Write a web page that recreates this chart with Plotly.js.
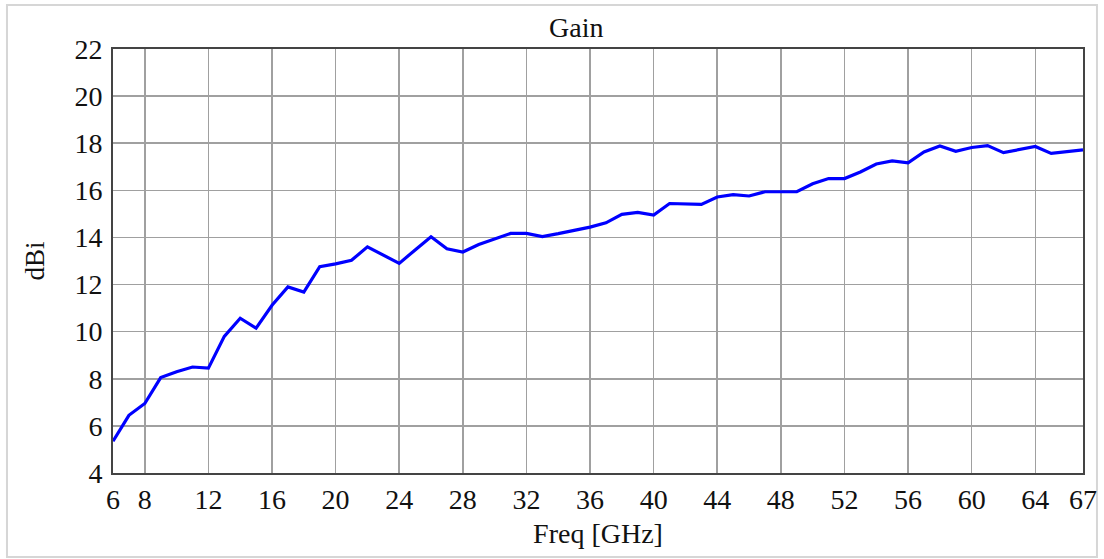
<!DOCTYPE html>
<html>
<head>
<meta charset="utf-8">
<script src="https://cdn.plot.ly/plotly-3.0.1.min.js"></script>
<style>
html, body { margin: 0; padding: 0; background: #fff; }
#chart { width: 1104px; height: 559px; }
#chart text { font-family: 'Liberation Serif', 'Times New Roman', serif !important; }
</style>
</head>
<body>
<div id="chart"></div>
<script>
const freqGHz = [6,7,8,9,10,11,12,13,14,15,16,17,18,19,20,21,22,23,24,25,26,27,28,29,30,31,32,33,34,35,36,37,38,39,40,41,42,43,44,45,46,47,48,49,50,51,52,53,54,55,56,57,58,59,60,61,62,63,64,65,66,67];
const gainDBi = [5.35,6.45,6.95,8.05,8.3,8.5,8.45,9.8,10.57,10.15,11.12,11.9,11.68,12.76,12.88,13.03,13.6,13.25,12.9,13.47,14.03,13.52,13.38,13.7,13.92,14.17,14.17,14.04,14.16,14.3,14.44,14.62,14.98,15.06,14.95,15.44,15.41,15.4,15.72,15.82,15.76,15.94,15.94,15.94,16.28,16.5,16.5,16.78,17.12,17.25,17.17,17.63,17.88,17.66,17.82,17.9,17.6,17.73,17.86,17.57,17.63,17.72];
const xTickVals = [6,8,12,16,20,24,28,32,36,40,44,48,52,56,60,64,67];
const yTickVals = [4,6,8,10,12,14,16,18,20,22];

const FAM = 'Liberation Serif';

const trace = {
  x: freqGHz,
  y: gainDBi,
  type: 'scatter',
  mode: 'lines',
  line: { color: '#0000ff', width: 3.2 },
  hoverinfo: 'x+y'
};

const layout = {
  width: 1104,
  height: 559,
  margin: { l: 113, r: 21, t: 49, b: 86 },
  paper_bgcolor: '#ffffff',
  plot_bgcolor: '#ffffff',
  showlegend: false,
  font: { family: FAM, color: '#111111', size: 28 },
  title: {
    text: 'Gain',
    font: { family: FAM, size: 28, color: '#111111' },
    x: 0.522, xanchor: 'center', xref: 'container',
    y: 0.952, yanchor: 'middle', yref: 'container'
  },
  xaxis: {
    range: [6, 67],
    tickmode: 'array',
    tickvals: xTickVals,
    ticktext: xTickVals.map(String),
    showgrid: true,
    gridcolor: '#a0a0a0',
    gridwidth: 1.6,
    showline: true,
    mirror: true,
    linecolor: '#444444',
    linewidth: 2,
    ticks: '',
    tickfont: { family: FAM, size: 28, color: '#111111' },
    zeroline: false,
    fixedrange: true,
    title: { text: 'Freq [GHz]', font: { family: FAM, size: 28, color: '#111111' }, standoff: 10 }
  },
  yaxis: {
    range: [4, 22],
    tickmode: 'array',
    tickvals: yTickVals,
    ticktext: yTickVals.map(String),
    showgrid: true,
    gridcolor: '#a0a0a0',
    gridwidth: 1.6,
    showline: true,
    mirror: true,
    linecolor: '#444444',
    linewidth: 2,
    ticks: '',
    ticklabelstandoff: 3,
    tickfont: { family: FAM, size: 28, color: '#111111' },
    zeroline: false,
    fixedrange: true,
    title: { text: 'dBi', font: { family: FAM, size: 27, color: '#111111' }, standoff: 22 }
  },
  shapes: [
    {
      type: 'rect', xref: 'paper', yref: 'paper',
      x0: -0.1093, x1: 1.0144, y0: -0.198, y1: 1.1038,
      line: { color: '#d6d6d6', width: 2 },
      fillcolor: 'rgba(0,0,0,0)',
      layer: 'below'
    }
  ]
};

function draw() {
  Plotly.newPlot('chart', [trace], layout, { displayModeBar: false, responsive: false, staticPlot: true });
}
if (document.fonts && document.fonts.load) {
  document.fonts.load('28px "Liberation Serif"').then(draw, draw);
} else {
  draw();
}
</script>
</body>
</html>
